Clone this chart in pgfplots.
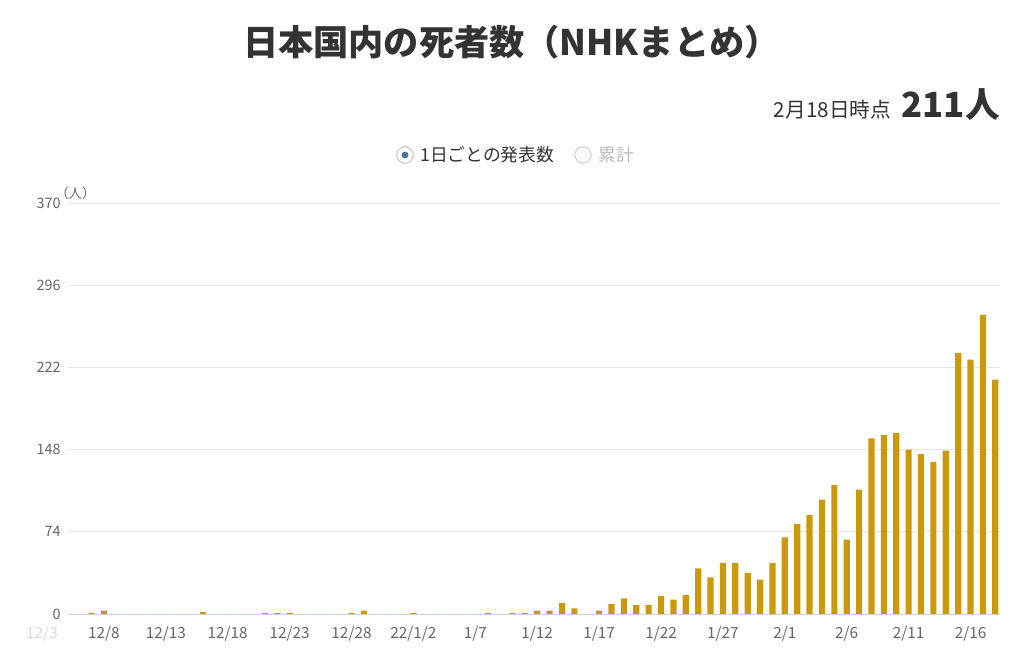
\documentclass[border=0pt]{standalone}
\usepackage{pgfplots}
\pgfplotsset{compat=1.18}
\usepackage{fontspec}
\setmainfont{Noto Sans CJK JP}
\definecolor{barc}{HTML}{CA9A0C}
\definecolor{gridc}{HTML}{E6E6E6}
\definecolor{basec}{HTML}{CCD6EB}
\definecolor{tickc}{HTML}{666666}
\definecolor{titlec}{HTML}{333333}
\definecolor{radioc}{HTML}{4A7498}
\pgfplotstableread{
day val
0 0
1 0
2 0
3 0
4 1
5 3
6 0
7 0
8 0
9 0
10 0
11 0
12 0
13 2
14 0
15 0
16 0
17 0
18 1
19 1
20 1
21 0
22 0
23 0
24 0
25 1
26 3
27 0
28 0
29 0
30 1
31 0
32 0
33 0
34 0
35 0
36 1
37 0
38 1
39 1
40 3
41 3
42 10
43 5
44 0
45 3
46 9
47 14
48 8
49 8
50 16
51 13
52 17
53 41
54 33
55 46
56 46
57 37
58 31
59 46
60 69
61 81
62 89
63 103
64 116
65 67
66 112
67 158
68 161
69 163
70 148
71 144
72 137
73 147
74 235
75 229
76 269
77 211
}\deaths
\begin{document}
\begin{tikzpicture}
\path[use as bounding box] (0,0) rectangle (768pt,490.5pt);
\begin{axis}[
  at={(51pt,30pt)}, anchor=south west,
  scale only axis, width=699pt, height=308.25pt,
  xmin=2.1, xmax=77.38, ymin=0, ymax=370,
  clip mode=individual,
  axis line style={draw=none},
  ytick={0,74,148,222,296,370},
  extra y ticks={0},
  extra y tick labels={},
  extra y tick style={grid style={draw=basec, line width=0.75pt}},
  xtick={5,10,...,75},
  xticklabels={12/8,12/13,12/18,12/23,12/28,22/1/2,1/7,1/12,1/17,1/22,1/27,2/1,2/6,2/11,2/16},
  ymajorgrids,
  grid style={draw=gridc, line width=0.75pt},
  major tick length=0pt,
  /pgf/number format/assume math mode=true,
  yticklabel style={font=\fontsize{10.8}{12}\selectfont, text=tickc, xshift=-2pt},
  xticklabel style={font=\fontsize{11.5}{13}\selectfont, text=tickc, anchor=north, yshift=-5.5pt},
]
\addplot[ybar, bar width=0.5, fill=barc, draw=none] table[x=day, y=val] {\deaths};
\node[font=\fontsize{11.5}{13}\selectfont, text=gray!30, anchor=north, yshift=-5.5pt, inner sep=0.333em] at (axis cs:0,0) {12/3};
\end{axis}
% title
\node[font=\fontsize{26.4}{30}\selectfont\bfseries, text=titlec] at (383.5pt,459pt) {日本国内の死者数（NHKまとめ）};
% right subtitle
\node[anchor=base east, inner sep=0pt, text=titlec] at (750pt,402pt)
  {{\fontsize{15.5}{17}\selectfont 2月18日時点}\hspace{8pt}{\fontsize{26}{30}\selectfont\bfseries 211人}};
% legend
\draw[gray!45, line width=0.8pt, fill=white] (303.75pt,374.25pt) circle (6.2pt);
\fill[radioc] (303.75pt,374.25pt) circle (2.6pt);
\node[anchor=west, inner sep=0pt, font=\fontsize{13.3}{15}\selectfont, text=titlec] at (315pt,374.25pt) {1日ごとの発表数};
\draw[gray!35, line width=0.8pt, fill=gray!5] (437.25pt,374.25pt) circle (6.2pt);
\node[anchor=west, inner sep=0pt, font=\fontsize{13.3}{15}\selectfont, text=gray!55] at (448.5pt,374.25pt) {累計};
% unit
\node[font=\fontsize{10}{12}\selectfont, text=tickc] at (56.5pt,345.5pt) {（人）};
\end{tikzpicture}
\end{document}
